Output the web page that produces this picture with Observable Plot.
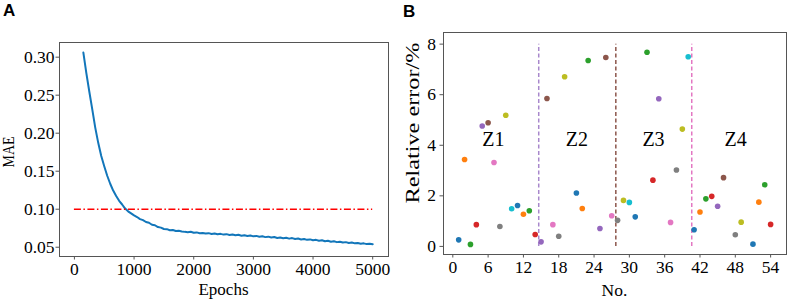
<!DOCTYPE html>
<html><head><meta charset="utf-8">
<script src="https://cdn.jsdelivr.net/npm/d3@7"></script>
<script src="https://cdn.jsdelivr.net/npm/@observablehq/plot@0.6"></script>
<style>
html,body{margin:0;padding:0;background:#fff;}
#wrap{position:relative;width:789px;height:300px;overflow:hidden;background:#fff;}
.panel{position:absolute;top:0;}
#wrap svg, #wrap svg text:not(.tag){font-family:"Liberation Serif","Times New Roman",serif !important;}
#wrap svg text.tag{font-family:"Liberation Sans",Arial,sans-serif !important;font-weight:bold;}
</style></head><body>
<div id="wrap"><div id="pa" class="panel" style="left:0px"></div><div id="pb" class="panel" style="left:395px"></div></div>
<script>
// ---------- Panel A data ----------
const epochs = [150,200,250,300,350,400,450,500,550,600,650,700,750,800,850,900,950,1000,
1050,1100,1150,1200,1250,1300,1350,1400,1450,1500,1550,1600,1650,1700,1750,1800,1850,1900,1950,2000,
2050,2100,2150,2200,2250,2300,2350,2400,2450,2500,2550,2600,2650,2700,2750,2800,2850,2900,2950,3000,
3050,3100,3150,3200,3250,3300,3350,3400,3450,3500,3550,3600,3650,3700,3750,3800,3850,3900,3950,4000,
4050,4100,4150,4200,4250,4300,4350,4400,4450,4500,4550,4600,4650,4700,4750,4800,4850,4900,4950,5000];
const mae = [0.3060,0.2790,0.2545,0.2310,0.2070,0.1870,0.1700,0.1565,0.1440,0.1335,0.1245,0.1175,0.1110,0.1062,0.1008,0.0972,0.0945,0.0918,
0.0897,0.0870,0.0856,0.0832,0.0822,0.0796,0.0789,0.0765,0.0758,0.0740,0.0738,0.0724,0.0726,0.0713,0.0716,0.0708,0.0702,0.0698,0.0703,0.0690,
0.0695,0.0684,0.0688,0.0680,0.0685,0.0674,0.0680,0.0670,0.0676,0.0666,0.0672,0.0662,0.0668,0.0658,0.0663,0.0652,0.0658,0.0648,0.0655,0.0643,
0.0649,0.0638,0.0644,0.0633,0.0639,0.0628,0.0634,0.0622,0.0629,0.0619,0.0625,0.0613,0.0620,0.0608,0.0614,0.0602,0.0609,0.0597,0.0603,0.0591,
0.0597,0.0585,0.0591,0.0579,0.0585,0.0573,0.0579,0.0567,0.0573,0.0562,0.0567,0.0556,0.0561,0.0551,0.0556,0.0546,0.0551,0.0541,0.0547,0.0538];
const threshold = 0.10;
const thresholdFrom = 0;
const thresholdTo = 5000;
const epochTicks = [0,1000,2000,3000,4000,5000];
const maeTicks = [0.05,0.10,0.15,0.20,0.25,0.30];

// ---------- Panel B data ----------
const sampleNo = [1,2,3,4,5,6,7,8,9,10,11,12,13,14,15,16,17,18,19,21,22,23,25,26,27,28,29,30,31,33,34,35,37,38,39,40,41,42,43,44,45,46,48,49,51,52,53,54];
const relErr = [0.26,3.44,0.08,0.86,4.76,4.89,3.32,0.79,5.19,1.49,1.62,1.27,1.41,0.47,0.18,5.85,0.86,0.40,6.71,2.11,1.50,7.35,0.71,7.47,1.21,1.03,1.82,1.74,1.17,7.68,2.62,5.84,0.95,3.02,4.64,7.50,0.66,1.36,1.88,1.98,1.59,2.72,0.46,0.96,0.09,1.75,2.44,0.87];
const zoneBounds = [14.6, 27.7, 40.6];
const zoneLabels = ["Z1","Z2","Z3","Z4"];
const zoneLabelX = [6.9, 21.1, 34.1, 48.05];
const zoneLabelY = [4.24, 4.24, 4.24, 4.24];
const noTicks = [0,6,12,18,24,30,36,42,48,54];
const errTicks = [0,2,4,6,8];

// ---------- styles ----------
const tab10 = ["#1f77b4","#ff7f0e","#2ca02c","#d62728","#9467bd","#8c564b","#e377c2","#7f7f7f","#bcbd22","#17becf"];
const zoneLineColors = ["#a888cc","#8c564b","#e377c2"];
const serif = "Liberation Serif";
const frameColor = "#555";
const tickFont = 17.5;

const chartA = Plot.plot({
  width: 395, height: 300,
  marginLeft: 59, marginRight: 7, marginTop: 42, marginBottom: 44,
  style: {fontFamily: serif, fontSize: "17px", background: "white", color: "black", overflow: "visible"},
  x: {domain: [-250, 5265]},
  y: {domain: [0.0378, 0.3193]},
  marks: [
    Plot.frame({stroke: frameColor, strokeWidth: 1}),
    Plot.axisX({ticks: epochTicks, tickSize: 3.5, tickPadding: 3, label: null, tickFormat: d3.format("d"), stroke: frameColor, fill: "black", fontSize: tickFont}),
    Plot.axisY({ticks: maeTicks, tickSize: 3.5, tickPadding: 1.5, label: null, tickFormat: d3.format(".2f"), stroke: frameColor, fill: "black", fontSize: tickFont}),
    Plot.line(mae, {x: epochs, y: mae, stroke: "#1276ba", strokeWidth: 2}),
    Plot.ruleY([threshold], {x1: thresholdFrom, x2: thresholdTo, stroke: "#ff0000", strokeWidth: 1.5, strokeDasharray: "7,2.5,1.5,2.5"})
  ]
});
document.getElementById("pa").appendChild(chartA);

const chartB = Plot.plot({
  width: 394, height: 300,
  marginLeft: 48, marginRight: 3, marginTop: 32, marginBottom: 46,
  style: {fontFamily: serif, fontSize: "17px", background: "white", color: "black", overflow: "visible"},
  x: {domain: [-1.58, 56.7]},
  y: {domain: [-0.32, 8.46]},
  color: {type: "identity"},
  marks: [
    Plot.frame({stroke: frameColor, strokeWidth: 1}),
    Plot.axisX({ticks: noTicks, tickSize: 3.5, tickPadding: 3, label: null, stroke: frameColor, fill: "black", fontSize: tickFont}),
    Plot.axisY({ticks: errTicks, tickSize: 3.5, tickPadding: 4, label: null, stroke: frameColor, fill: "black", fontSize: tickFont}),
    Plot.ruleX(zoneBounds, {x: zoneBounds, y1: 0, y2: 8, stroke: zoneLineColors, strokeWidth: 1.5, strokeDasharray: "4,2.5"}),
    Plot.text(zoneLabels, {x: zoneLabelX, y: zoneLabelY, text: zoneLabels, fontSize: 20, fill: "black"}),
    Plot.dot(relErr, {x: sampleNo, y: relErr, r: 2.8, fill: sampleNo.map(n => tab10[(n - 1) % 10]), stroke: "none"})
  ]
});
document.getElementById("pb").appendChild(chartB);

// ---------- extra labels ----------
function addText(svg, opts) {
  const t = d3.select(svg).append("text")
    .attr("x", opts.x).attr("y", opts.y)
    .attr("text-anchor", opts.anchor || "middle")
    .attr("font-size", opts.size)
    .attr("fill", "black")
    .text(opts.text);
  if (opts.cls) t.attr("class", opts.cls);
  if (opts.rotate) t.attr("transform", `rotate(-90 ${opts.x} ${opts.y})`).attr("dominant-baseline", "central");
  if (opts.len) t.attr("textLength", opts.len).attr("lengthAdjust", opts.adjust || "spacingAndGlyphs");
  return t;
}
addText(chartA, {x: 223.5, y: 294.5, text: "Epochs", size: 17});
addText(chartA, {x: 8.5, y: 152, text: "MAE", size: 17, rotate: true, len: 31});
addText(chartA, {x: 3, y: 16, text: "A", size: 17, anchor: "start", cls: "tag"});
addText(chartB, {x: 614.5 - 395, y: 296, text: "No.", size: 17.5});
addText(chartB, {x: 412 - 395, y: 123, text: "Relative error/%", size: 19, rotate: true, len: 161});
addText(chartB, {x: 403 - 395, y: 16.5, text: "B", size: 17, anchor: "start", cls: "tag"});
</script></body></html>
